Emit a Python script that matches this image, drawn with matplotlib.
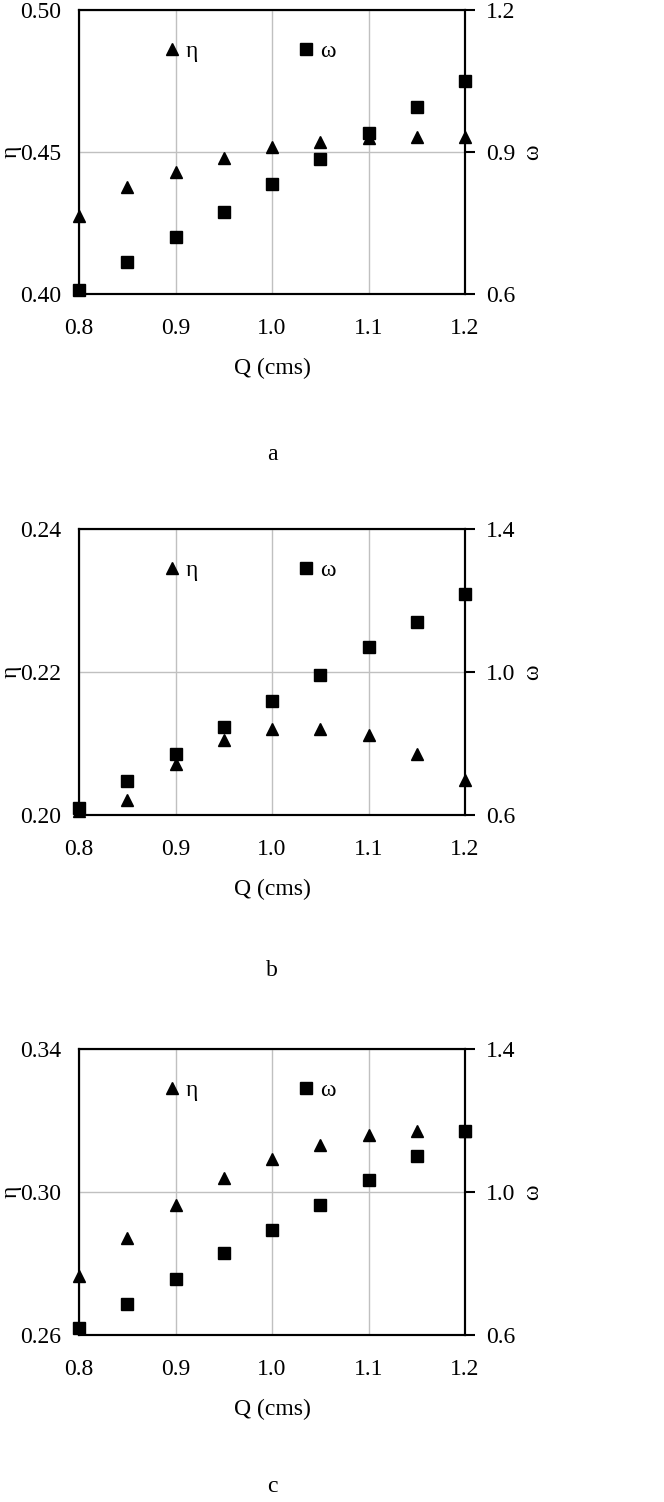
"""
Three stacked twin-axis scatter panels: eta and omega vs discharge Q.
"""
import numpy as np
import matplotlib
matplotlib.use('Agg')
import matplotlib.pyplot as plt
from matplotlib.lines import Line2D

plt.rcParams['font.family'] = ['Liberation Serif', 'DejaVu Serif']
plt.rcParams['font.size'] = 17

Q = [0.8, 0.85, 0.9, 0.95, 1.0, 1.05, 1.1, 1.15, 1.2]

# panel a
eta_a = [0.4275, 0.4378, 0.4428, 0.4480, 0.4518, 0.4535, 0.4550, 0.4553, 0.4553]
omega_a = [0.609, 0.667, 0.721, 0.774, 0.832, 0.885, 0.940, 0.995, 1.051]
# panel b
eta_b = [0.2005, 0.2021, 0.2072, 0.2105, 0.2120, 0.2120, 0.2112, 0.2086, 0.2049]
omega_b = [0.619, 0.695, 0.770, 0.845, 0.919, 0.992, 1.069, 1.141, 1.218]
# panel c
eta_c = [0.2764, 0.2871, 0.2965, 0.3039, 0.3092, 0.3131, 0.3160, 0.3170, 0.3172]
omega_c = [0.620, 0.687, 0.757, 0.828, 0.895, 0.963, 1.033, 1.100, 1.172]

panels = [
    ('a', eta_a, omega_a, [0.40, 0.45, 0.50], ['0.40', '0.45', '0.50'],
     [0.6, 0.9, 1.2], ['0.6', '0.9', '1.2']),
    ('b', eta_b, omega_b, [0.20, 0.22, 0.24], ['0.20', '0.22', '0.24'],
     [0.6, 1.0, 1.4], ['0.6', '1.0', '1.4']),
    ('c', eta_c, omega_c, [0.26, 0.30, 0.34], ['0.26', '0.30', '0.34'],
     [0.6, 1.0, 1.4], ['0.6', '1.0', '1.4']),
]
x_ticks = [0.8, 0.9, 1.0, 1.1, 1.2]
x_labels = ['0.8', '0.9', '1.0', '1.1', '1.2']

W, H = 664, 1502
fig = plt.figure(figsize=(W / 100, H / 100), dpi=100)

# (top, bottom) of each axes box in pixels, and where the panel letter sits
boxes = [(10, 294, 455), (529, 815, 970), (1049, 1335, 1487)]
left_px, right_px = 79, 465
axw = right_px - left_px

for (name, eta, omega, yt, yl, yt2, yl2), (top, bot, lab) in zip(panels, boxes):
    ax = fig.add_axes([left_px / W, 1 - bot / H, axw / W, (bot - top) / H])
    ax2 = ax.twinx()

    ax.set_xlim(0.8, 1.2)
    ax.set_ylim(yt[0], yt[-1])
    ax2.set_ylim(yt2[0], yt2[-1])

    ax.set_xticks(x_ticks)
    ax.set_xticklabels(x_labels)
    ax.set_yticks(yt)
    ax.set_yticklabels(yl)
    ax2.set_yticks(yt2)
    ax2.set_yticklabels(yl2)

    ax.grid(True, color='#c0c0c0', linewidth=1.0)
    ax.set_axisbelow(True)
    ax.tick_params(axis='x', length=0, pad=17)
    ax.tick_params(axis='y', length=0, pad=13)
    ax2.tick_params(axis='y', length=7, width=1.5, direction='out', pad=8)

    for a in (ax, ax2):
        for s in a.spines.values():
            s.set_linewidth(1.5)
            s.set_color('black')

    ax.plot(Q, eta, linestyle='none', marker='^', color='black',
            markersize=9, clip_on=False, zorder=3)
    ax2.plot(Q, omega, linestyle='none', marker='s', color='black',
             markersize=8.5, clip_on=False, zorder=3)

    ax.set_ylabel('η')
    ax.yaxis.set_label_coords((11 - left_px) / axw, 0.5)
    ax.yaxis.label.set_verticalalignment('center')
    ax2.set_ylabel('ω')
    ax2.yaxis.set_label_coords((533 - left_px) / axw, 0.5)
    ax2.yaxis.label.set_verticalalignment('center')
    ax.set_xlabel('Q (cms)', labelpad=14)

    handles = [
        Line2D([], [], linestyle='none', marker='^', color='black', markersize=9),
        Line2D([], [], linestyle='none', marker='s', color='black', markersize=8.5),
    ]
    ax2.legend(handles, ['η', 'ω'], ncol=2, frameon=False,
               loc='center left', bbox_to_anchor=(0.216, 0.855),
               handlelength=0.8, handletextpad=0.2, columnspacing=4.15,
               borderaxespad=0, borderpad=0)

    fig.text((left_px + right_px) / 2 / W, 1 - lab / H, name,
             ha='center', va='center', fontsize=17)

fig.savefig('out.png', dpi=100)
